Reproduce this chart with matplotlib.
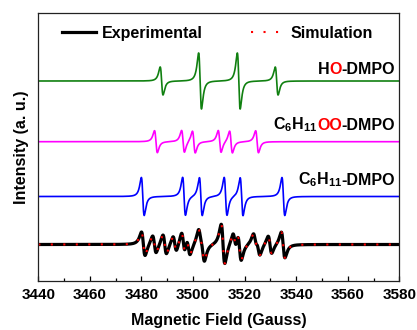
import numpy as np
import matplotlib
matplotlib.use("Agg")
import matplotlib.pyplot as plt
from matplotlib.offsetbox import TextArea, HPacker, AnnotationBbox

plt.rcParams['font.family'] = ['Liberation Sans', 'DejaVu Sans']
plt.rcParams['font.weight'] = 'bold'
plt.rcParams['mathtext.fontset'] = 'custom'
plt.rcParams['mathtext.rm'] = 'Liberation Sans:bold'
plt.rcParams['mathtext.it'] = 'Liberation Sans:bold'
plt.rcParams['mathtext.bf'] = 'Liberation Sans:bold'
plt.rcParams['mathtext.default'] = 'rm'

# line positions (G) and peak heights
ho_pos = [3487.8, 3502.7, 3517.7, 3532.4]
ho_amp = [14, 28, 28, 14]
oo_pos = [3485.6, 3496.1, 3500.3, 3510.3, 3514.7, 3524.8]
oo_amp = [11, 11, 11, 11, 11, 11]
c6_pos = [3480.5, 3496.5, 3503.0, 3512.6, 3518.8, 3535.0]
c6_amp = [19, 19, 19, 19, 19, 19]
exp_pos = [3480.7, 3485.0, 3489.0, 3492.9, 3496.2, 3498.2, 3502.7, 3503.8,
           3511.6, 3516.1, 3518.0, 3524.0, 3525.3, 3529.8, 3534.9]
exp_amp = [12, 9, 10, 8, 11, 9, 10, 12, 20, 9, 14, 8, 8, 9, 13]

offsets = {'ho': 200, 'oo': 139.3, 'c6': 84.5, 'exp': 36.5}

field = np.linspace(3440, 3580, 8000)


def spectrum(pos, amp, dhpp):
    g = dhpp * np.sqrt(3) / 2
    y = np.zeros_like(field)
    for c, a in zip(pos, amp):
        u = (field - c) / g
        y += -a * (2 * u / (1 + u ** 2) ** 2) / 0.6495
    return y


fig = plt.figure(figsize=(4.17, 3.30), dpi=100)
ax = fig.add_axes([0.0918, 0.1485, 0.8662, 0.8112])

exp = spectrum(exp_pos, exp_amp, 1.4) + offsets['exp']
ax.plot(field, exp, color='black', lw=2.3, label='Experimental')
ax.plot(field, exp, color='red', lw=1.5, linestyle=(0, (1, 5)), label='Simulation')
ax.plot(field, spectrum(c6_pos, c6_amp, 1.1) + offsets['c6'], color='#0000ff', lw=1.2)
ax.plot(field, spectrum(oo_pos, oo_amp, 1.1) + offsets['oo'], color='#ff00ff', lw=1.2)
ax.plot(field, spectrum(ho_pos, ho_amp, 1.1) + offsets['ho'], color='#108010', lw=1.2)


def label(parts, y):
    boxes = [TextArea(t, textprops=dict(color=c, fontsize=11.5, fontweight='bold')) for t, c in parts]
    pack = HPacker(children=boxes, align='baseline', pad=0, sep=0)
    ab = AnnotationBbox(pack, (3578.4, y), box_alignment=(1, 0.5), frameon=False, pad=0)
    ax.add_artist(ab)


label([('H', 'black'), ('O', 'red'), ('-DMPO', 'black')], 211)
label([('C$_6$H$_{11}$', 'black'), ('OO', 'red'), ('-DMPO', 'black')], 156)
label([('C$_6$H$_{11}$', 'black'), ('-DMPO', 'black')], 101)

ax.set_xlim(3440, 3580)
ax.set_ylim(0, 267.7)
ax.set_xticks(np.arange(3440, 3581, 20))
ax.set_xticks(np.arange(3450, 3580, 20), minor=True)
ax.set_yticks([])
ax.tick_params(axis='x', which='major', direction='in', length=3.5, width=0.9, labelsize=11, pad=5)
ax.tick_params(axis='x', which='minor', direction='in', length=2, width=0.9)
for s in ax.spines.values():
    s.set_linewidth(0.9)
    s.set_color('#222222')
ax.set_xlabel('Magnetic Field (Gauss)', fontsize=11.5, fontweight='bold', labelpad=8)
ax.set_ylabel('Intensity (a. u.)', fontsize=11.5, fontweight='bold', labelpad=7)

ax.legend(loc='center', bbox_to_anchor=(0.497, 0.926), ncol=2, frameon=False,
          prop=dict(size=11.5, weight='bold'), handlelength=2.1, handletextpad=0.4,
          columnspacing=3.0)

fig.savefig('out.png', dpi=100)
